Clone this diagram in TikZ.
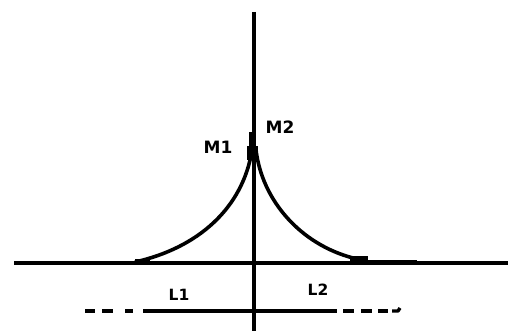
\documentclass[tikz,border=0pt]{standalone}
\usepackage{fontspec}
\setmainfont{DejaVu Sans}
\begin{document}
\begin{tikzpicture}[x=1pt,y=-1pt,
  ln/.style={line width=3.4pt,black},
  cv/.style={line width=3.6pt,black,line join=round},
  lbl/.style={font=\bfseries\fontsize{17}{17}\selectfont,inner sep=0pt},
  lbls/.style={font=\bfseries\fontsize{15.5}{15.5}\selectfont,inner sep=0pt}]
\useasboundingbox[fill=white] (0,0) rectangle (509,331);
% axes
\coordinate (vt) at (254,12);
\coordinate (vb) at (254,331);
\coordinate (hl) at (14,263);
\coordinate (hr) at (508,263);
\draw[ln] (vt) -- (vb);
\draw[ln] (hl) -- (hr);
% curve
\coordinate (pk) at (252,150);
\coordinate (le) at (135,262);
\coordinate (re) at (353,258);
\draw[cv] (le) .. controls (198,248) and (243,208) .. (pk);
\draw[cv] (256,150) .. controls (262,200) and (300,244) .. (re);
\fill (247,146) rectangle (258,160);
\draw[line width=3.8pt] (251,132) -- (251,150);
\fill (350,256) rectangle (368,263);
\draw[line width=2.4pt] (368,261) -- (417,261);
\fill (135,259) rectangle (150,263);
% bottom line
\coordinate (bl) at (143,311);
\coordinate (br) at (337,311);
\draw[ln] (bl) -- (br);
\draw[ln] (85,311) -- (95,311) (102,311) -- (113,311) (125,311) -- (133,311);
\draw[ln] (343,311) -- (354,311) (361,311) -- (372,311) (378,311) -- (388,311);
\draw[ln,line join=round] (392,311) -- (398,311) -- (400,308);
% labels
\node[lbl] (m1) at (218,147) {M1};
\node[lbl] (m2) at (280,127) {M2};
\node[lbls] (l1) at (179,295) {L1};
\node[lbls] (l2) at (318,290) {L2};
\end{tikzpicture}
\end{document}
